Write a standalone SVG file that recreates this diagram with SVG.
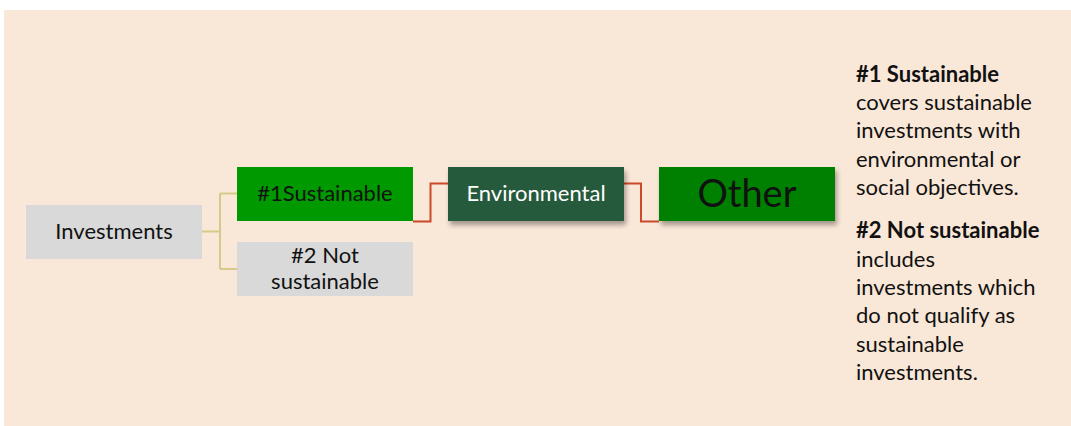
<svg xmlns="http://www.w3.org/2000/svg" width="1071" height="426" viewBox="0 0 1071 426">
<defs>
<filter id="sh" x="-10%" y="-20%" width="125%" height="160%">
<feGaussianBlur in="SourceAlpha" stdDeviation="2.5"/>
<feOffset dx="2" dy="4" result="b"/>
<feComponentTransfer><feFuncA type="linear" slope="0.35"/></feComponentTransfer>
<feMerge><feMergeNode/><feMergeNode in="SourceGraphic"/></feMerge>
</filter>
<style>
text{font-family:Lato,"Liberation Sans",sans-serif;fill:#111;}
.box{font-size:22px;text-anchor:middle;}
.tan{fill:none;stroke:#d6c98a;stroke-width:2;}
.red{fill:none;stroke:#cc4a2a;stroke-width:2;}
.side{font-size:22px;}
.b{font-weight:bold;}
</style>
</defs>
<rect x="4" y="10" width="1067" height="416" fill="#f9e7d7"/>
<g id="connectors">
<path class="tan" d="M202,231.5 H220 M220,193.5 V269 M220,193.5 H237 M220,269 H237"/>
<path class="red" d="M413,221.5 H430.5 V183.5 H448"/>
<path class="red" d="M624,183.5 H641 V221.5 H659"/>
</g>
<g id="investments">
<rect x="26" y="205" width="176" height="54" fill="#d9d9d9"/>
<text class="box" x="114" y="238.5">Investments</text>
</g>
<g id="sustainable">
<rect x="237" y="167" width="176" height="54" fill="#009900"/>
<text class="box" x="325" y="200.5">#1Sustainable</text>
</g>
<g id="not-sustainable">
<rect x="237" y="242" width="176" height="54" fill="#d9d9d9"/>
<text class="box" x="325" y="262.5">#2 Not</text>
<text class="box" x="325" y="288.5">sustainable</text>
</g>
<g id="environmental">
<rect x="448" y="167" width="176" height="54" fill="#265a3c" filter="url(#sh)"/>
<text class="box" x="536" y="200.5" style="fill:#ffffff">Environmental</text>
</g>
<g id="other">
<rect x="659" y="167" width="176" height="54" fill="#008000" filter="url(#sh)"/>
<text class="box" x="747" y="206.5" style="font-size:38px">Other</text>
</g>
<g id="legend">
<text class="side b" x="856" y="81.7">#1 Sustainable</text>
<text class="side" x="856" y="110">covers sustainable</text>
<text class="side" x="856" y="138.3">investments with</text>
<text class="side" x="856" y="166.7">environmental or</text>
<text class="side" x="856" y="195">social objectives.</text>
<text class="side b" x="856" y="238.3">#2 Not sustainable</text>
<text class="side" x="856" y="266.7">includes</text>
<text class="side" x="856" y="295">investments which</text>
<text class="side" x="856" y="323.3">do not qualify as</text>
<text class="side" x="856" y="351.7">sustainable</text>
<text class="side" x="856" y="380">investments.</text>
</g>
</svg>
